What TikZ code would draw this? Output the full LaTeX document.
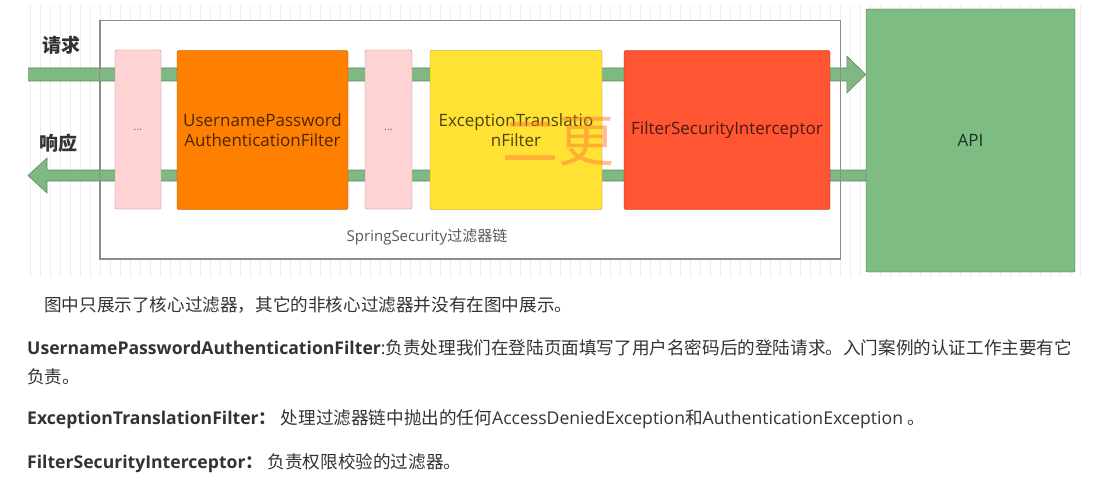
\documentclass[tikz,border=0pt]{standalone}
\usepackage{fontspec}
\setmainfont{Open Sans}
\newfontfamily\cjk{Noto Sans CJK SC}
\usetikzlibrary{calc}
\definecolor{pinkFilter}{HTML}{FFD3D3}
\definecolor{orangeFilter}{HTML}{FF8000}
\definecolor{yellowFilter}{HTML}{FFE234}
\definecolor{redFilter}{HTML}{FF5533}
\definecolor{apiGreen}{HTML}{7DBC83}
\definecolor{arrowGreen}{HTML}{7FB882}
\definecolor{arrowGreenDark}{HTML}{5B8C60}
\definecolor{gridGray}{HTML}{EEEEEE}
\definecolor{chainGray}{HTML}{8C8C8C}
\definecolor{textDark}{HTML}{333333}
\definecolor{waterOrange}{HTML}{FF7A33}

\begin{document}
\begin{tikzpicture}[x=1pt, y=-1pt,
    filterbox/.style={rectangle, rounded corners=2pt, draw=#1!65!black, fill=#1,
                      minimum height=159pt, align=center, inner sep=0pt,
                      text=black, text opacity=0.7, font=\fontsize{17}{20.5}\selectfont},
    apibox/.style={rectangle, rounded corners=1pt, draw=apiGreen!60!black, fill=apiGreen,
                   minimum width=209pt, minimum height=263pt, text=black, text opacity=0.75,
                   font=\fontsize{17}{20}\selectfont},
    chainbox/.style={rectangle, draw=chainGray, fill=white, line width=0.9pt,
                     minimum width=740pt, minimum height=238pt},
    flowarrow/.style={fill=arrowGreen, draw=arrowGreenDark, line width=0.6pt, line join=miter},
    tag/.style={font=\cjk\bfseries\fontsize{19}{22}\selectfont, text=textDark},
    bodytext/.style={anchor=base west, inner sep=0pt, text=textDark,
                     font=\fontsize{17.6}{21}\selectfont}
  ]
  \fill[white] (0,0) rectangle (1110,484);
  \draw[gridGray, line width=0.5pt, step=10] (28,5) grid (1085,277);

  \node[chainbox] (chain) at (470,139.5) {};

  \coordinate (reqin) at (28,74.5);
  \coordinate (respout) at (28,175.5);
  \node[apibox] (api) at (970.5,140.5) {API};

  \filldraw[flowarrow] ($(reqin)+(0,-6.5)$) -- ($(api.west |- reqin)+(-19,-6.5)$) -- ++(0,-12)
    -- (api.west |- reqin) -- ($(api.west |- reqin)+(-19,18.5)$) -- ++(0,-12)
    -- ($(reqin)+(0,6.5)$);
  \filldraw[flowarrow] (respout) -- ($(respout)+(19,-17.5)$) -- ++(0,12)
    -- ($(api.west |- respout)+(0,-5.5)$) -- ++(0,11) -- ($(respout)+(19,5.5)$)
    -- ++(0,12) -- cycle;
  \draw[chainGray, line width=0.9pt] (chain.north west) rectangle (chain.south east);

  \node[filterbox=pinkFilter, minimum width=46pt, text opacity=0.5,
        font=\fontsize{11}{13}\selectfont] (dotsA) at (138,129.5) {...};
  \node[filterbox=orangeFilter, minimum width=171pt] (upaf) at (262.5,130)
    {UsernamePassword\\AuthenticationFilter};
  \node[filterbox=pinkFilter, minimum width=47pt, text opacity=0.5,
        font=\fontsize{11}{13}\selectfont] (dotsB) at (388.5,129.5) {...};
  \node[filterbox=yellowFilter, minimum width=172pt] (etf) at (516,130)
    {ExceptionTranslatio\\nFilter};
  \node[filterbox=redFilter, minimum width=206pt] (fsi) at (727,130)
    {FilterSecurityInterceptor};

  \node[text=black!65, font=\fontsize{15}{18}\selectfont] (chainlabel) at (427,237)
    {SpringSecurity{\cjk 过滤器链}};
  \node[tag] (request) at (61,45) {请求};
  \node[tag] (response) at (58,143) {响应};
  \node[text=waterOrange, text opacity=0.5, inner sep=0pt,
        font=\cjk\fontsize{56}{60}\selectfont] (mark) at (558,142) {二更};

  \node[bodytext] (note) at (44,311)
    {\cjk 图中只展示了核心过滤器，其它的非核心过滤器并没有在图中展示。};
  \node[bodytext] (upafnote) at (27,354)
    {\textbf{UsernamePasswordAuthenticationFilter}:{\cjk 负责处理我们在登陆页面填写了用户名密码后的登陆请求。入门案例的认证工作主要有它}};
  \node[bodytext] (upafnote2) at (27,383) {\cjk 负责。};
  \node[bodytext] (etfnote) at (27,424)
    {\textbf{ExceptionTranslationFilter{\cjk ：}} {\cjk 处理过滤器链中抛出的任何}AccessDeniedException{\cjk 和}AuthenticationException {\cjk 。}};
  \node[bodytext] (fsinote) at (27,468)
    {\textbf{FilterSecurityInterceptor{\cjk ：}} {\cjk 负责权限校验的过滤器。}};
\end{tikzpicture}
\end{document}
